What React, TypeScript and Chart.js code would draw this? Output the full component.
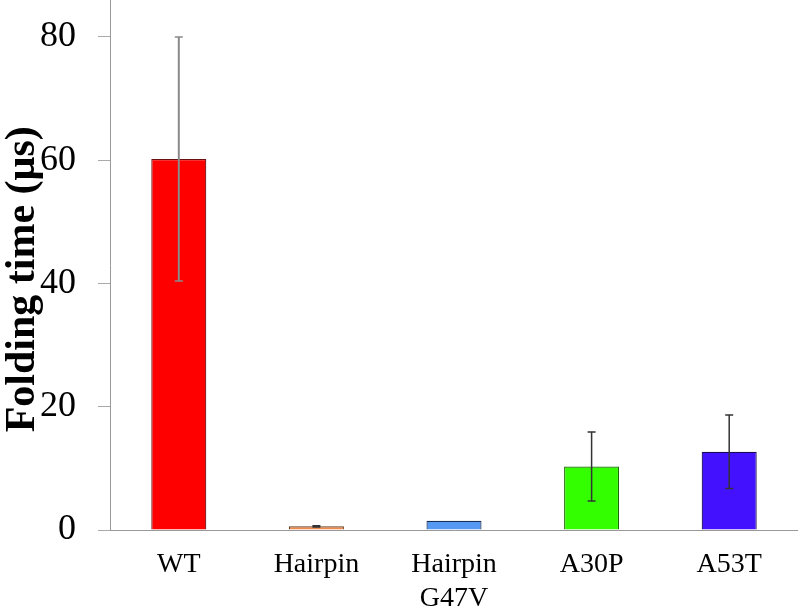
import React, { useEffect, useRef } from "react";
import { Chart, registerables } from "chart.js";

Chart.register(...registerables);

const categories: (string | string[])[] = ["WT", "Hairpin", ["Hairpin", "G47V"], "A30P", "A53T"];
const foldingTimes = [60.2, 0.6, 1.5, 10.3, 12.7];
const errors = [19.8, 0.1, 0, 5.6, 5.95];
const barColors = ["#ff0000", "#ee8a4e", "#5599f2", "#33ff00", "#4411ff"];
const borderColors = ["#6a1010", "#6a3a1a", "#1a2f55", "#1f6a08", "#180a55"];
const errorColors = ["#8a8a8a", "#333333", "#333333", "#333333", "#333333"];
const errorWidths = [2, 1.5, 1.5, 1.5, 1.5];
const yTicks = [0, 20, 40, 60, 80];
const yTitle = "Folding time (μs)";

const FONT = '"Liberation Serif", "Times New Roman", serif';

const errorBarPlugin = {
  id: "errorBars",
  afterDatasetsDraw(chart: any) {
    const meta = chart.getDatasetMeta(0);
    const yScale = chart.scales.y;
    const ctx = chart.ctx;
    ctx.save();
    meta.data.forEach((bar: any, i: number) => {
      const e = errors[i];
      if (!e) return;
      const v = foldingTimes[i];
      const yTop = yScale.getPixelForValue(v + e);
      const yBot = yScale.getPixelForValue(v - e);
      const x = bar.x;
      ctx.strokeStyle = errorColors[i];
      ctx.lineWidth = errorWidths[i];
      ctx.beginPath();
      ctx.moveTo(x, yTop);
      ctx.lineTo(x, yBot);
      ctx.stroke();
      ctx.lineWidth = 1.5;
      ctx.beginPath();
      ctx.moveTo(x - 4, yTop);
      ctx.lineTo(x + 4, yTop);
      ctx.moveTo(x - 4, yBot);
      ctx.lineTo(x + 4, yBot);
      ctx.stroke();
    });
    ctx.restore();
  },
};

const yTitlePlugin = {
  id: "yTitleOverlay",
  afterDraw(chart: any) {
    const { ctx, chartArea } = chart;
    ctx.save();
    ctx.fillStyle = "#000";
    ctx.font = `bold 42px ${FONT}`;
    ctx.textAlign = "center";
    ctx.textBaseline = "alphabetic";
    const cy = chartArea.top + (chartArea.bottom - chartArea.top) * 0.527;
    ctx.translate(chartArea.left - 76, cy);
    ctx.rotate(-Math.PI / 2);
    ctx.fillText(yTitle, 0, 0);
    ctx.restore();
  },
};

export default function App() {
  const canvasRef = useRef<HTMLCanvasElement | null>(null);

  useEffect(() => {
    if (!canvasRef.current) return;
    const chart = new Chart(canvasRef.current, {
      type: "bar",
      data: {
        labels: categories,
        datasets: [
          {
            data: foldingTimes,
            backgroundColor: barColors,
            borderColor: borderColors,
            borderWidth: 1.2,
            barPercentage: 0.4,
            categoryPercentage: 1,
          },
        ],
      },
      options: {
        animation: false,
        responsive: true,
        maintainAspectRatio: false,
        layout: { padding: 0 },
        plugins: {
          legend: { display: false },
          tooltip: { enabled: false },
          title: { display: false },
        },
        scales: {
          x: {
            grid: { display: false },
            border: { display: true, color: "#999999", width: 1 },
            ticks: {
              color: "#000",
              font: { family: FONT, size: 28, lineHeight: 1.2 },
              padding: 10,
              maxRotation: 0,
              autoSkip: false,
            },
            afterFit(scale: any) {
              scale.height = 76;
              scale.paddingLeft = 0;
              scale.paddingRight = 0;
            },
          },
          y: {
            min: 0,
            max: 86,
            afterBuildTicks(scale: any) {
              scale.ticks = yTicks.map((v) => ({ value: v }));
            },
            grid: {
              display: true,
              drawOnChartArea: false,
              drawTicks: true,
              tickLength: 12,
              color: "#aaaaaa",
            },
            border: { display: true, color: "#999999", width: 1 },
            ticks: {
              color: "#000",
              font: { family: FONT, size: 36 },
              padding: 22,
            },
            afterFit(scale: any) {
              scale.width = 110;
              scale.paddingTop = 0;
              scale.paddingBottom = 0;
            },
          },
        },
      },
      plugins: [errorBarPlugin, yTitlePlugin],
    });
    return () => chart.destroy();
  }, []);

  return (
    <div style={{ position: "absolute", left: 0, top: 0, width: 798, height: 606, background: "#fff" }}>
      <canvas ref={canvasRef} />
    </div>
  );
}
